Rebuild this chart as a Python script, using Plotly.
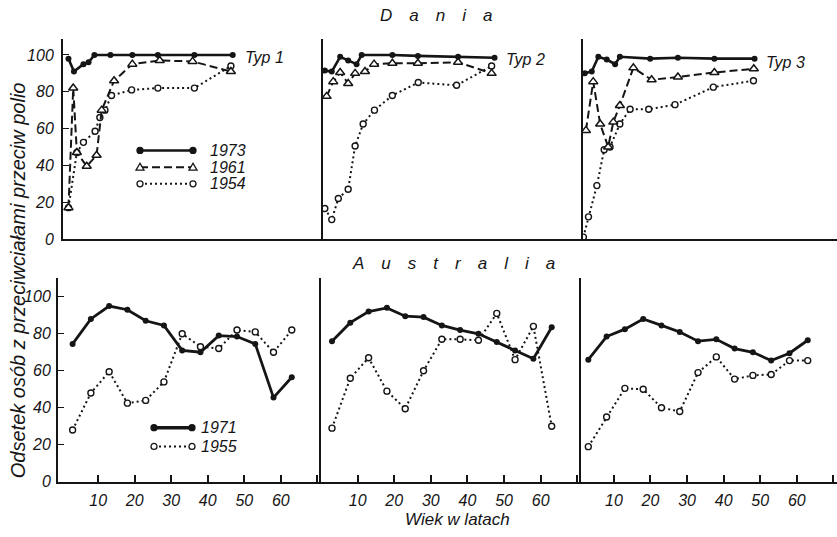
import plotly.graph_objects as go

W, H = 837, 537

# ---------------- Denmark: % with polio antibodies by age ----------------
# Typ 1
dk1_1973_age = [1.5, 3.0, 5.6, 7.0, 8.6, 13, 19, 26, 36, 46.5]
dk1_1973_val = [98, 91, 95, 96, 100, 100, 100, 100, 100, 100]
dk1_1961_age = [1.5, 2.8, 3.8, 6.5, 9.2, 10.6, 14, 19, 26.5, 35.5, 46]
dk1_1961_val = [17, 82, 47, 39.5, 45.5, 70, 86, 95, 97, 96.5, 91]
dk1_1954_age = [1.5, 3.8, 5.6, 8.8, 10.1, 11.5, 13.3, 18.8, 26, 36, 46]
dk1_1954_val = [17, 47, 52.5, 58.5, 66, 70, 78, 81, 82, 82, 94]
# Typ 2
dk2_1973_age = [0.5, 2.4, 4.7, 6.9, 9.2, 10.6, 19, 26, 37, 47]
dk2_1973_val = [91.5, 91, 99, 97, 95, 100, 100, 99.5, 99, 98.5]
dk2_1961_age = [1.0, 2.8, 4.7, 6.9, 8.8, 11.5, 14, 19, 26, 37, 46.2]
dk2_1961_val = [77.5, 85.5, 90.5, 84.5, 90, 91, 95, 95.5, 95.5, 96, 90]
dk2_1954_age = [0.5, 2.4, 4.2, 6.9, 8.8, 11, 14.1, 19, 26.1, 36.6, 46.2]
dk2_1954_val = [16.5, 10.5, 22, 27, 50.5, 62.5, 70, 78, 85, 83.5, 94]
# Typ 3
dk3_1973_age = [0.5, 2.4, 4.2, 6.5, 8.8, 10.1, 18.4, 26, 36, 47]
dk3_1973_val = [90, 91, 99, 97.5, 95, 99, 98, 98.5, 98, 98]
dk3_1961_age = [0.8, 2.8, 4.7, 6.9, 8.3, 10.1, 13.8, 18.8, 26, 36, 46.8]
dk3_1961_val = [59, 85.5, 62.5, 50, 63.5, 72.5, 93, 86.5, 88, 90.5, 92.5]
dk3_1954_age = [0.1, 1.5, 3.8, 5.8, 7.4, 10.1, 12.9, 18, 25.2, 35.7, 46.7]
dk3_1954_val = [1, 12, 29, 48.5, 50, 62.5, 70.5, 70.5, 73, 82.5, 86]

# ---------------- Australia ----------------
au_age = [3, 8, 13, 18, 23, 28, 33, 38, 43, 48, 53, 58, 63]
au1_1971 = [74.5, 88, 95, 93, 87, 84.5, 71, 70, 79, 78.5, 74.5, 45.5, 56.5]
au1_1955 = [28, 48, 59.5, 42.5, 44, 54, 80, 73, 72, 82, 81, 70, 82]
au2_1971 = [76, 86, 92, 94, 89.5, 89, 84.5, 82, 80, 75.5, 71, 66.5, 83.5]
au2_1955 = [29, 56, 67, 49, 39.5, 60, 77, 77, 76.5, 91, 66, 84, 30]
au3_1971 = [66, 78.5, 82.5, 88, 84.5, 81, 76, 77, 72, 70, 65.5, 69.5, 76.5]
au3_1955 = [19, 35, 50.5, 50, 40, 38, 59, 67.5, 55.5, 57.5, 58, 65.5, 65.5]

y_ticks = [0, 20, 40, 60, 80, 100]
x_ticks = [10, 20, 30, 40, 50, 60, 70]
x_ticktext = ["10", "20", "30", "40", "50", "60", ""]
type_labels = ["Typ 1", "Typ 2", "Typ 3"]

INK = "#151515"
FONT = "Liberation Sans"


def fx(px):
    return px / W


def fy(py):
    return 1 - py / H


# styles of the survey years
STY_SOLID = dict(line=dict(color=INK, width=2.6),
                 marker=dict(symbol="circle", size=6, color=INK, line=dict(width=0)))
STY_DASH = dict(line=dict(color=INK, width=2.0, dash="8px,4px"),
                marker=dict(symbol="triangle-up", size=8, color="white",
                            line=dict(color=INK, width=1.5)))
STY_DOT = dict(line=dict(color=INK, width=2.0, dash="2px,3px"),
               marker=dict(symbol="circle", size=6, color="white",
                           line=dict(color=INK, width=1.4)))

fig = go.Figure()


def add(x, y, sty, ax):
    fig.add_trace(go.Scatter(x=x, y=y, mode="lines+markers", xaxis="x" + ax,
                             yaxis="y" + ax, showlegend=False, hoverinfo="skip",
                             **sty))


dk = [
    (dk1_1954_age, dk1_1954_val, dk1_1961_age, dk1_1961_val, dk1_1973_age, dk1_1973_val),
    (dk2_1954_age, dk2_1954_val, dk2_1961_age, dk2_1961_val, dk2_1973_age, dk2_1973_val),
    (dk3_1954_age, dk3_1954_val, dk3_1961_age, dk3_1961_val, dk3_1973_age, dk3_1973_val),
]
for i, (a54, v54, a61, v61, a73, v73) in enumerate(dk):
    ax = str(i + 1)
    add(a54, v54, STY_DOT, ax)
    add(a61, v61, STY_DASH, ax)
    add(a73, v73, STY_SOLID, ax)

au = [(au1_1955, au1_1971), (au2_1955, au2_1971), (au3_1955, au3_1971)]
for i, (v55, v71) in enumerate(au):
    ax = str(i + 4)
    add(au_age, v55, STY_DOT, ax)
    add(au_age, v71, dict(STY_SOLID, line=dict(color=INK, width=2.8)), ax)

tickfont = dict(family=FONT, size=16, color=INK, style="italic")
layout = dict(
    width=W, height=H, margin=dict(l=0, r=0, t=0, b=0),
    paper_bgcolor="white", plot_bgcolor="rgba(0,0,0,0)",
    showlegend=False,
)

top_x = [(63, 323), (323, 583), (583, 837)]
bot_x = [(58, 321), (321, 581), (581, 837)]
bot_range = [(-1, 71), (0, 71), (1, 71)]
PXY = 3.65  # pixels per year

for i in range(3):
    # Denmark row
    a, b = top_x[i]
    n = str(i + 1)
    layout["xaxis" + n] = dict(domain=[fx(a), fx(b)], range=[0, (b - a) / PXY],
                               anchor="y" + n, showline=True, linecolor=INK,
                               linewidth=1.6, ticks="", showticklabels=False,
                               showgrid=False, zeroline=False)
    layout["yaxis" + n] = dict(domain=[fy(243), fy(40)], range=[0, 108.5],
                               anchor="x" + n, showline=True, linecolor=INK,
                               linewidth=2, showgrid=False, zeroline=False,
                               tickvals=y_ticks, ticks="inside" if i == 0 else "",
                               ticklen=6, tickwidth=1.3, tickcolor=INK,
                               showticklabels=(i == 0), tickfont=tickfont,
                               ticklabelstandoff=4)
    # Australia row
    a, b = bot_x[i]
    n = str(i + 4)
    layout["xaxis" + n] = dict(domain=[fx(a), fx(b)], range=list(bot_range[i]),
                               anchor="y" + n, showline=True, linecolor=INK,
                               linewidth=1.6, ticks="inside", ticklen=7,
                               tickwidth=1.5, tickcolor=INK, tickvals=x_ticks,
                               ticktext=x_ticktext, tickfont=tickfont,
                               ticklabelstandoff=3,
                               showgrid=False, zeroline=False)
    layout["yaxis" + n] = dict(domain=[fy(490), fy(283)], range=[0, 110],
                               anchor="x" + n, showline=True, linecolor=INK,
                               linewidth=2, showgrid=False, zeroline=False,
                               tickvals=y_ticks, ticks="inside" if i == 0 else "",
                               ticklen=6, tickwidth=1.3, tickcolor=INK,
                               showticklabels=(i == 0), tickfont=tickfont,
                               ticklabelstandoff=2)

fig.update_layout(**layout)

EM = "\u2003"
ann = []


def text(px, py, s, size=15, xanchor="left", angle=0):
    ann.append(dict(x=fx(px), y=fy(py), xref="paper", yref="paper", text=s,
                    showarrow=False, xanchor=xanchor, yanchor="middle",
                    textangle=angle,
                    font=dict(family=FONT, size=size, color=INK, style="italic")))


text(436, 16, EM.join("Dania"), size=17, xanchor="center")
text(453, 268, EM.join("Australia"), size=17, xanchor="center")
text(18, 285, "Odsetek osób z przeciwciałami przeciw polio", size=20,
     xanchor="center", angle=-90)
text(457, 528, "Wiek w latach", size=17, xanchor="center")
for (px, py), lab in zip([(243, 58), (504, 61), (764, 64)], type_labels):
    text(px, py, lab, size=16)

# key for the Danish surveys
shapes = []


def key_line(x0, x1, py, width, dash):
    shapes.append(dict(type="line", xref="paper", yref="paper", x0=fx(x0), x1=fx(x1),
                       y0=fy(py), y1=fy(py), line=dict(color=INK, width=width, dash=dash)))


def key_dot(px, py, r, filled):
    shapes.append(dict(type="circle", xref="paper", yref="paper",
                       x0=fx(px - r), x1=fx(px + r), y0=fy(py + r), y1=fy(py - r),
                       fillcolor=INK if filled else "white",
                       line=dict(color=INK, width=1.3)))


def key_tri(px, py, r):
    path = "M {} {} L {} {} L {} {} Z".format(
        fx(px), fy(py - r), fx(px - r), fy(py + r * 0.75), fx(px + r), fy(py + r * 0.75))
    shapes.append(dict(type="path", xref="paper", yref="paper", path=path,
                       fillcolor="white", line=dict(color=INK, width=1.3)))


key_line(140, 193, 153, 2.6, "solid")
key_dot(140, 153, 3, True)
key_dot(193, 153, 3, True)
key_line(140, 193, 170, 2.0, "8px,4px")
key_tri(140, 170, 4)
key_tri(193, 170, 4)
key_line(140, 193, 187, 2.0, "2px,3px")
key_dot(140, 187, 3, False)
key_dot(193, 187, 3, False)
for py, lab in [(153, "1973"), (170, "1961"), (187, "1954")]:
    text(208, py, lab, size=16)

# key for the Australian surveys
key_line(154, 192, 435, 3.4, "solid")
key_dot(154, 435, 3, True)
key_dot(192, 435, 3, True)
key_line(154, 192, 454, 2.0, "2px,3px")
key_dot(154, 454, 3, False)
key_dot(192, 454, 3, False)
for py, lab in [(435, "1971"), (454, "1955")]:
    text(199, py, lab, size=16)

fig.update_layout(annotations=ann, shapes=shapes)
fig.write_html("out.html")
